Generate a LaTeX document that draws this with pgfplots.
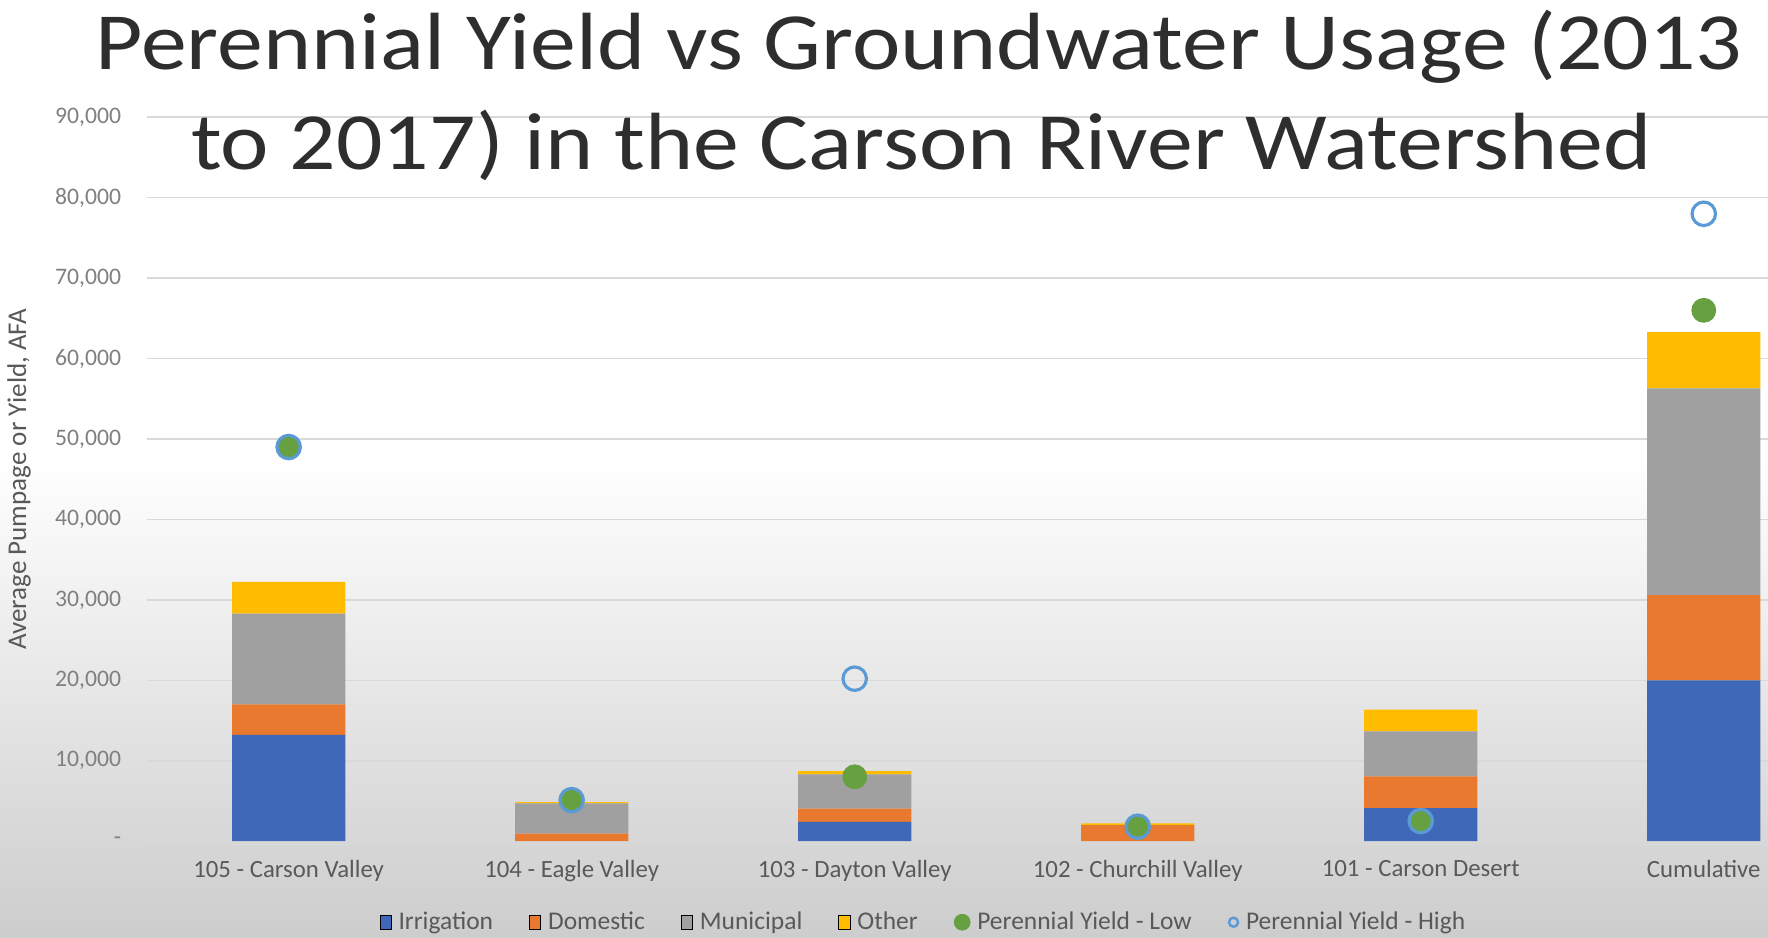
\documentclass[border=0pt]{standalone}
\usepackage{pgfplots}
\pgfplotsset{compat=1.18}
\usepackage{pgfplotstable}
\usepackage{graphicx}
\usepackage{fontspec}
\setmainfont{Carlito}
\definecolor{cIrr}{HTML}{3F68B8}
\definecolor{cDom}{HTML}{E8792E}
\definecolor{cMun}{HTML}{A0A0A0}
\definecolor{cOth}{HTML}{FFBC00}
\definecolor{cLow}{HTML}{66A040}
\definecolor{cHigh}{HTML}{5B9BD5}
\definecolor{cTxt}{HTML}{595959}
\definecolor{cTick}{HTML}{808080}
\definecolor{cGrid}{HTML}{D9D9D9}
\definecolor{cBot}{HTML}{CDCDCD}
\pgfplotsset{sqleg/.style={legend image code/.code={\fill[##1] (0pt,-3pt) rectangle (5pt,3pt);}}}
\pgfplotstableread{
x irr dom mun oth low high
0 13200 3800 11300 3950 49000 49000
1 0 950 3750 150 5100 5100
2 2400 1650 4250 400 8000 20200
3 0 2000 0 200 1800 1800
4 4100 3950 5600 2700 2500 2500
5 20000 10600 25700 7000 66000 78000
}\data
\begin{document}
\begin{tikzpicture}
\fill[white] (-65.25pt,-42.5pt) rectangle (718.75pt,373pt);
\fill[top color=white, bottom color=cBot] (-65.25pt,-42.5pt) rectangle (718.75pt,170pt);
\useasboundingbox (-65.25pt,-42.5pt) rectangle (718.75pt,373pt);
\begin{axis}[at={(0pt,0pt)}, anchor=south west, scale only axis,
  width=718.75pt, height=321pt,
  ybar stacked, bar width=0.4,
  xmin=-0.5, xmax=5.227, ymin=0, ymax=90000,
  axis x line*=bottom, axis y line*=left,
  x axis line style={cGrid, line width=0.8pt, -},
  y axis line style={draw=none},
  xtick={0,...,5}, major tick length=0pt,
  xticklabels={105 - Carson Valley, 104 - Eagle Valley, 103 - Dayton Valley, 102 - Churchill Valley, 101 - Carson Desert, Cumulative},
  xticklabel style={font=\fontsize{11}{12}\selectfont, text=cTxt, yshift=-5pt},
  scaled y ticks=false,
  ytick={0,10000,...,90000},
  yticklabels={-,{10,000},{20,000},{30,000},{40,000},{50,000},{60,000},{70,000},{80,000},{90,000}},
  ymajorgrids, grid style={cGrid, line width=0.7pt},
  yticklabel style={font=\fontsize{10.5}{12}\selectfont, text=cTick, xshift=-8pt},
  ylabel={Average Pumpage or Yield, AFA},
  every axis y label/.style={at={(axis description cs:-0.079,0.5)}, rotate=90, anchor=center,
    font=\fontsize{12}{13}\selectfont, text=cTxt},
]
\addplot[fill=cIrr, draw=none] table[x=x, y=irr] {\data};
\addplot[fill=cDom, draw=none] table[x=x, y=dom] {\data};
\addplot[fill=cMun, draw=none] table[x=x, y=mun] {\data};
\addplot[fill=cOth, draw=none] table[x=x, y=oth] {\data};
\end{axis}
\begin{axis}[at={(0pt,0pt)}, anchor=south west, scale only axis,
  width=718.75pt, height=321pt,
  xmin=-0.5, xmax=5.227, ymin=0, ymax=90000,
  hide axis, clip=false,
  legend columns=6,
  legend style={at={(axis description cs:0.4797,-0.112)}, anchor=center, draw=none, fill=none,
    font=\fontsize{11.3}{13}\selectfont, text=cTxt,
    /tikz/every even column/.append style={column sep=14pt},
    /tikz/every odd column/.append style={column sep=1pt}},
]
\addlegendimage{sqleg, fill=cIrr}
\addlegendimage{sqleg, fill=cDom}
\addlegendimage{sqleg, fill=cMun}
\addlegendimage{sqleg, fill=cOth}
\addplot[only marks, mark=*, mark size=5.3pt, cLow, mark options={fill=cLow, draw=none},
  legend image code/.code={\fill[cLow] (2.5pt,0pt) circle (3.5pt);}] table[x=x, y=low] {\data};
\addplot[only marks, mark=o, mark size=5.2pt, cHigh, mark options={line width=1.4pt},
  legend image code/.code={\draw[cHigh, line width=1.1pt] (2.5pt,0pt) circle (2pt);}] table[x=x, y=high] {\data};
\legend{Irrigation, Domestic, Municipal, Other, Perennial Yield - Low, Perennial Yield - High}
\end{axis}
\node[anchor=base, font=\fontsize{36}{40}\selectfont, text=black!82] at (342.25pt,342pt) {\scalebox{1.13}[1]{Perennial Yield vs Groundwater Usage (2013}};
\node[anchor=base, font=\fontsize{36}{40}\selectfont, text=black!82] at (343.25pt,298pt) {\scalebox{1.13}[1]{to 2017) in the Carson River Watershed}};
\end{tikzpicture}
\end{document}
